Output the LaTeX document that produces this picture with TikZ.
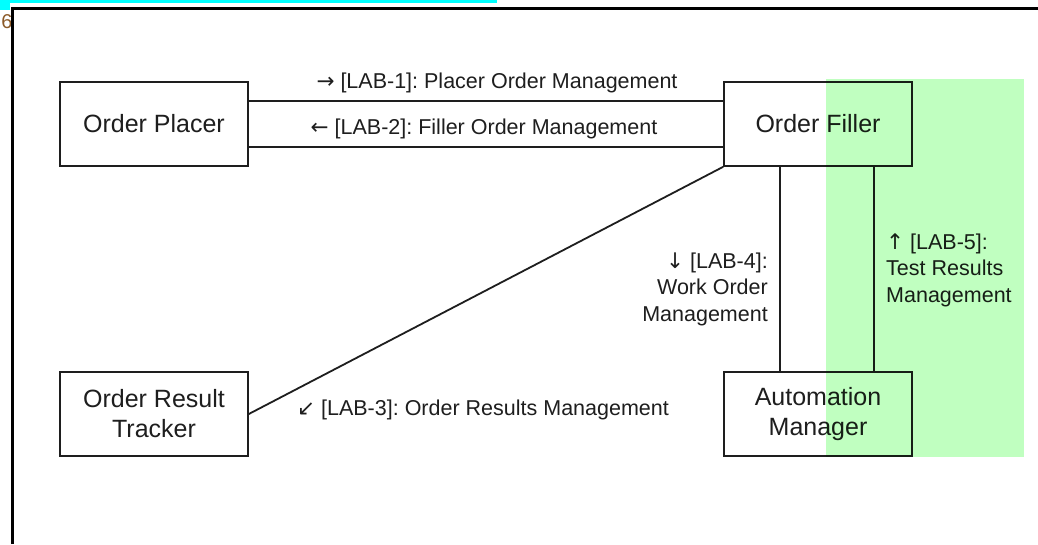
\documentclass[tikz,border=0pt]{standalone}
\usepackage{fontspec}
\setmainfont{Liberation Sans}
\newfontfamily\arr{DejaVu Sans}
\definecolor{lgreen}{RGB}{192,255,192}
\definecolor{cyanbar}{RGB}{0,255,255}
\definecolor{ink}{RGB}{30,30,30}
\frenchspacing
\begin{document}
\begin{tikzpicture}[x=1pt,y=-1pt,
  box/.style={draw=ink, line width=1.6pt, fill=white, minimum width=188pt, minimum height=84pt, align=center, font=\fontsize{25}{30}\selectfont, inner sep=0pt, text=ink},
  conn/.style={draw=ink, line width=1.8pt},
  lbl/.style={font=\fontsize{21.5}{26.5}\selectfont, inner sep=0pt, text=ink}]
\useasboundingbox (0,0) rectangle (1038,544);
\fill[white] (0,0) rectangle (1038,544);
\fill[cyanbar] (0,0) rectangle (497,3);
\fill[cyanbar] (0,0) rectangle (10,10);
\node[font=\fontsize{20}{20}\selectfont, text={rgb,255:red,140;green,90;blue,40}, inner sep=0pt] (six) at (7,22) {6};
\draw[line width=3pt] (12,544) -- (12,8.5) -- (1038,8.5);

\node[box] (op) at (154,124) {Order Placer};
\node[box] (of) at (818,124) {Order Filler};
\node[box] (ort) at (154,414) {Order Result\\Tracker};
\node[box] (am) at (818,414) {Automation\\Manager};

\draw[conn] ([yshift=23pt]op.east) -- ([yshift=23pt]of.west);
\draw[conn] ([yshift=-23pt]op.east) -- ([yshift=-23pt]of.west);
\draw[conn] (ort.east) -- (of.south west);
\draw[conn] ([xshift=-38pt]of.south) -- ([xshift=-38pt]am.north);
\draw[conn] ([xshift=56pt]of.south) -- ([xshift=56pt]am.north);

\node[lbl] (l1) at (497,83) {{\arr →} [LAB-1]: Placer Order Management};
\node[lbl] (l2) at (484,129) {{\arr ←} [LAB-2]: Filler Order Management};
\node[lbl] (l3) at (483,410) {{\arr ↙} [LAB-3]: Order Results Management};
\node[lbl, anchor=east, align=right] (l4) at (768,289) {{\arr ↓} [LAB-4]:\\Work Order\\Management};
\node[lbl, anchor=west, align=left] (l5) at (886,270) {{\arr ↑} [LAB-5]:\\Test Results\\Management};

\begin{scope}[blend mode=multiply]
\fill[lgreen] (826,79) rectangle (1024,457);
\end{scope}
\end{tikzpicture}
\end{document}
